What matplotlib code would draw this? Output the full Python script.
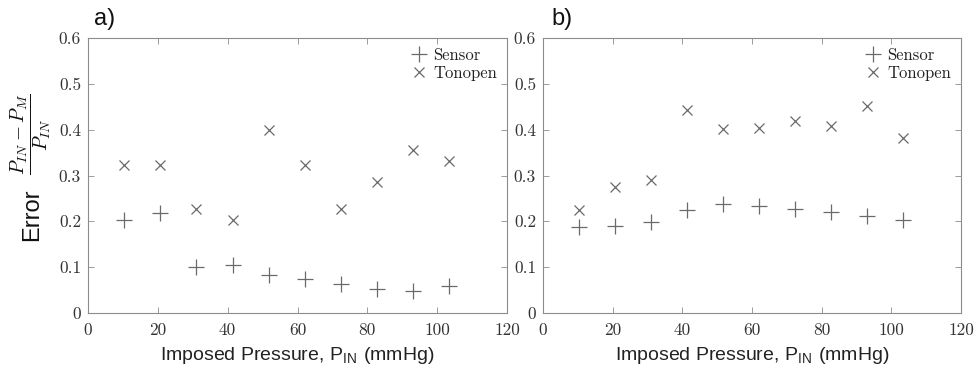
import matplotlib
matplotlib.use("Agg")
import matplotlib.pyplot as plt

pressure = [10.3, 20.7, 31.0, 41.4, 51.7, 62.1, 72.4, 82.7, 93.1, 103.4]
sensor_a = [0.202, 0.218, 0.100, 0.105, 0.084, 0.074, 0.064, 0.052, 0.049, 0.058]
tonopen_a = [0.323, 0.323, 0.226, 0.202, 0.400, 0.323, 0.226, 0.286, 0.355, 0.332]
sensor_b = [0.188, 0.189, 0.199, 0.225, 0.237, 0.233, 0.228, 0.220, 0.211, 0.204]
tonopen_b = [0.225, 0.274, 0.291, 0.444, 0.401, 0.404, 0.420, 0.407, 0.451, 0.382]
xticks = [0, 20, 40, 60, 80, 100, 120]
yticks = [0, 0.1, 0.2, 0.3, 0.4, 0.5, 0.6]
panel_labels = ["a)", "b)"]
legend_labels = ["Sensor", "Tonopen"]

plt.rcParams['mathtext.fontset'] = 'cm'
plt.rcParams['axes.formatter.use_mathtext'] = True

fig = plt.figure(figsize=(9.77, 3.69), dpi=100)
W, H = 977, 369
axes_px = [(88, 507), (543, 961)]
top_px, bot_px = 38, 313

mcol = '#6a6a6a'
spine_col = '#8c8c8c'
sans = 'Liberation Sans'

datasets = [(sensor_a, tonopen_a), (sensor_b, tonopen_b)]
for i, ((x0, x1), (s, t)) in enumerate(zip(axes_px, datasets)):
    ax = fig.add_axes([x0 / W, (H - bot_px) / H, (x1 - x0) / W, (bot_px - top_px) / H])
    ax.plot(pressure, s, linestyle='none', marker='+', ms=11, mew=0.9, color=mcol, label=legend_labels[0])
    ax.plot(pressure, t, linestyle='none', marker='x', ms=7.5, mew=0.9, color=mcol, label=legend_labels[1])
    ax.set_xlim(0, 120)
    ax.set_ylim(0, 0.6)
    ax.set_xticks(xticks)
    ax.set_yticks(yticks)
    ax.set_xticklabels([str(v) for v in xticks], fontfamily='cmr10', fontsize=12.5, color='#333333')
    ax.set_yticklabels(['0' if v == 0 else f'{v:.1f}' for v in yticks], fontfamily='cmr10', fontsize=12.5, color='#333333')
    ax.tick_params(axis='y', direction='in', right=True, length=4, width=0.6, color=spine_col, pad=5)
    ax.tick_params(axis='x', direction='in', top=True, length=4, width=0.6, color=spine_col, pad=7)
    for sp in ax.spines.values():
        sp.set_color(spine_col)
        sp.set_linewidth(0.8)
    leg = ax.legend(loc='upper right', frameon=False, prop={'family': 'cmr10', 'size': 12},
                    handletextpad=0.25, borderaxespad=0.3, labelspacing=0.15, handlelength=1.2,
                    borderpad=0.3)
    for txt in leg.get_texts():
        txt.set_color('#222222')
    ax.set_xlabel(r'Imposed Pressure, P$_{\mathregular{IN}}$ (mmHg)', fontfamily=sans, fontsize=14,
                  color='#222222', labelpad=5)
    ax.text(0.015 if i == 0 else 0.02, 1.03, panel_labels[i], transform=ax.transAxes,
            fontfamily=sans, fontsize=17, ha='left', va='bottom', color='#111111')

fig.text(32 / W, 1 - 215 / H, 'Error', rotation=90, fontfamily=sans, fontsize=17,
         color='#111111', ha='center', va='center')
fig.text(31 / W, 1 - 134 / H, r'$\dfrac{P_{IN}-P_M}{P_{IN}}$', rotation=90, fontsize=14,
         color='#111111', ha='center', va='center')

fig.savefig('out.png', dpi=100)
